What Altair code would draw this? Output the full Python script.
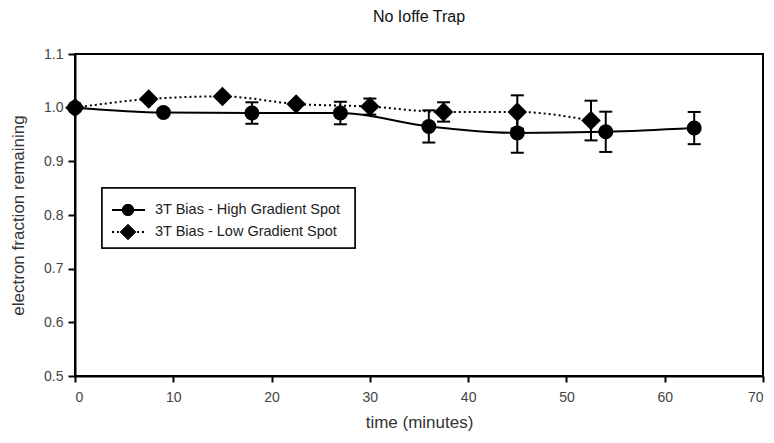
import altair as alt
import pandas as pd

# Trap lifetime data: time in minutes, fraction of electrons remaining, error
series_names = ["3T Bias - High Gradient Spot", "3T Bias - Low Gradient Spot"]

time_high = [0, 9, 18, 27, 36, 45, 54, 63]
frac_high = [1.000, 0.991, 0.990, 0.990, 0.965, 0.953, 0.955, 0.962]
err_high = [0.0, 0.0, 0.020, 0.021, 0.030, 0.037, 0.0375, 0.030]

time_low = [0, 7.5, 15, 22.5, 30, 37.5, 45, 52.5]
frac_low = [1.000, 1.016, 1.021, 1.007, 1.002, 0.992, 0.992, 0.976]
err_low = [0.0, 0.0, 0.0, 0.0, 0.015, 0.018, 0.031, 0.037]

x_ticks = [0, 10, 20, 30, 40, 50, 60, 70]
y_ticks = [0.5, 0.6, 0.7, 0.8, 0.9, 1.0, 1.1]

FONT = "Liberation Sans"


def frame(times, fracs, errs, name):
    df = pd.DataFrame({"time": times, "frac": fracs, "err": errs})
    df["lo"] = df["frac"] - df["err"]
    df["hi"] = df["frac"] + df["err"]
    df["series"] = name
    return df


high = frame(time_high, frac_high, err_high, series_names[0])
low = frame(time_low, frac_low, err_low, series_names[1])

x_enc = alt.X(
    "time:Q",
    scale=alt.Scale(domain=[0, 70], nice=False),
    axis=alt.Axis(values=x_ticks, title="time (minutes)", format="d"),
)
y_enc = alt.Y(
    "frac:Q",
    scale=alt.Scale(domain=[0.5, 1.1], nice=False, zero=False),
    axis=alt.Axis(values=y_ticks, title="electron fraction remaining", format=".1f"),
)


def error_layers(df):
    d = df[df["err"] > 0]
    stem = alt.Chart(d).mark_rule(color="black", strokeWidth=2).encode(
        x="time:Q", y="lo:Q", y2="hi:Q"
    )
    cap_lo = alt.Chart(d).mark_tick(
        color="black", orient="horizontal", size=13, thickness=2, opacity=1
    ).encode(x="time:Q", y="lo:Q")
    cap_hi = alt.Chart(d).mark_tick(
        color="black", orient="horizontal", size=13, thickness=2, opacity=1
    ).encode(x="time:Q", y="hi:Q")
    return [stem, cap_lo, cap_hi]


line_high = alt.Chart(high).mark_line(
    color="black", strokeWidth=2, interpolate="monotone"
).encode(x=x_enc, y=y_enc)
line_low = alt.Chart(low).mark_line(
    color="black", strokeWidth=2, strokeDash=[2, 3], interpolate="monotone"
).encode(x="time:Q", y="frac:Q")

pts_high = alt.Chart(high).mark_point(
    shape="circle", filled=True, color="black", size=225, opacity=1
).encode(x="time:Q", y="frac:Q")
pts_low = alt.Chart(low).mark_point(
    shape="diamond", filled=True, color="black", size=380, opacity=1
).encode(x="time:Q", y="frac:Q")

# Boxed key in the lower-left part of the plot
legend_df = pd.DataFrame({"label": series_names})
key_box = alt.Chart(legend_df).mark_rect(
    fill="white", stroke="black", strokeWidth=1.5
).encode(x=alt.value(27), x2=alt.value(280), y=alt.value(134), y2=alt.value(194))

key_line_high = alt.Chart(legend_df).mark_rule(color="black", strokeWidth=2).encode(
    x=alt.value(37), x2=alt.value(70), y=alt.value(156)
)
key_line_low = alt.Chart(legend_df).mark_rule(
    color="black", strokeWidth=2, strokeDash=[2, 3]
).encode(x=alt.value(37), x2=alt.value(70), y=alt.value(178))
key_pt_high = alt.Chart(legend_df).mark_point(
    shape="circle", filled=True, color="black", size=144, opacity=1
).encode(x=alt.value(53), y=alt.value(156))
key_pt_low = alt.Chart(legend_df).mark_point(
    shape="diamond", filled=True, color="black", size=260, opacity=1
).encode(x=alt.value(53), y=alt.value(178))
key_text_high = alt.Chart(legend_df.iloc[[0]]).mark_text(
    align="left", baseline="middle", font=FONT, fontSize=14.5, color="#222"
).encode(x=alt.value(80), y=alt.value(156), text="label:N")
key_text_low = alt.Chart(legend_df.iloc[[1]]).mark_text(
    align="left", baseline="middle", font=FONT, fontSize=14.5, color="#222"
).encode(x=alt.value(80), y=alt.value(178), text="label:N")

layers = [line_high, line_low]
layers += error_layers(high) + error_layers(low)
layers += [pts_high, pts_low]
layers += [key_box, key_line_high, key_line_low, key_pt_high, key_pt_low,
           key_text_high, key_text_low]

chart = alt.layer(*layers).properties(
    width=688,
    height=322,
    autosize="none",
    padding={"left": 75, "top": 54, "right": 11, "bottom": 67},
    title=alt.TitleParams(
        "No Ioffe Trap", font=FONT, fontSize=16, fontWeight="normal",
        color="#111", anchor="middle", offset=22,
    ),
).configure_view(
    stroke="black", strokeWidth=2
).configure_axis(
    grid=False,
    domainColor="black",
    domainWidth=2,
    tickColor="black",
    tickWidth=2,
    labelFont=FONT,
    labelFontSize=14,
    labelColor="#444",
    titleFont=FONT,
    titleFontSize=17,
    titleFontWeight="normal",
    titleColor="#333",
).configure_axisX(
    tickSize=6, labelPadding=8, titlePadding=10
).configure_axisY(
    tickSize=7, labelPadding=5, titlePadding=16
)

chart.save("out.html", embed_options={"renderer": "svg", "actions": False})
